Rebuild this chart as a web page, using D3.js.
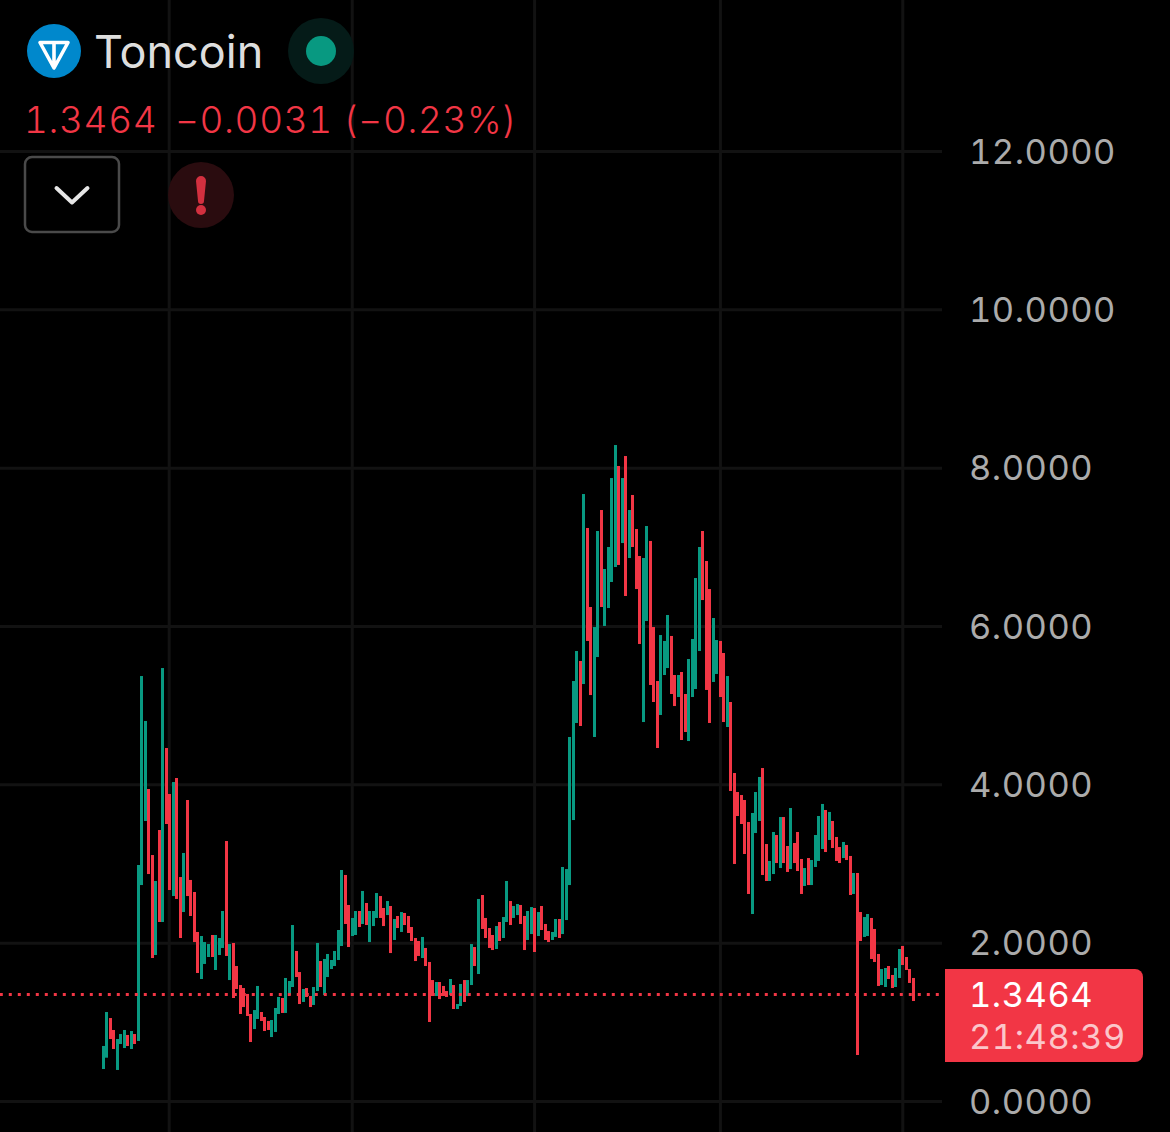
<!DOCTYPE html>
<html>
<head>
<meta charset="utf-8">
<script src="https://cdn.jsdelivr.net/npm/d3@7"></script>
<style>
  html, body { margin: 0; background: #000; }
  svg { display: block; font-family: Inter, "Noto Sans", sans-serif; font-variant-numeric: tabular-nums; }
</style>
</head>
<body>
<svg id="chart" width="1170" height="1132"></svg>
<script>
// weekly candles
const opens = [
  0.404,0.547,1.048,0.897,0.392,0.720,0.669,0.834,0.657,0.846,0.758,2.728,3.537,3.941,3.107,1.844,3.423,2.261,4.459,3.878,
  2.589,4.080,2.829,2.387,3.802,2.792,2.640,2.135,1.541,1.731,1.819,2.097,1.655,1.844,1.933,3.284,1.528,1.996,1.705,1.465,
  1.427,1.352,1.099,0.909,1.036,1.124,1.061,1.011,0.808,0.872,1.099,1.301,1.112,1.339,1.440,1.895,1.629,1.251,1.427,1.326,
  1.213,1.389,1.768,1.339,1.566,1.667,1.705,1.781,1.958,2.855,2.476,2.084,2.097,2.400,2.236,2.501,2.008,2.210,2.312,2.589,
  2.438,2.349,2.463,2.034,2.337,2.135,2.375,2.337,2.198,2.059,2.021,1.806,1.933,1.756,1.528,1.326,1.503,1.453,1.389,1.339,
  1.465,1.162,1.200,1.528,1.326,1.465,1.945,1.604,2.602,2.312,2.185,2.097,1.920,2.261,2.059,2.261,2.526,2.312,2.349,2.476,
  2.337,2.034,2.109,2.438,2.084,2.463,2.236,2.147,2.034,2.072,2.299,2.109,2.286,2.728,3.549,4.775,5.558,5.267,7.238,6.240,
  4.598,5.608,7.465,6.000,6.227,6.556,6.745,8.021,7.048,8.147,6.859,7.655,7.225,6.884,4.787,6.063,7.074,5.987,5.305,4.876,
  5.381,5.469,5.874,5.381,5.103,5.419,5.141,4.547,5.103,5.204,5.684,7.200,6.821,6.467,5.293,5.394,5.811,5.659,4.724,5.040,
  4.143,3.903,3.865,3.802,3.524,2.362,3.385,3.537,4.206,3.246,2.779,2.867,3.360,2.943,3.587,3.221,2.930,3.259,3.398,3.057,
  2.716,3.069,2.728,2.956,3.032,3.183,3.676,3.297,3.537,3.335,3.208,3.069,3.234,3.095,2.615,2.880,2.387,2.072,2.084,2.312,
  2.173,1.857,1.465,1.440,1.705,1.592,1.440,1.554,1.958,1.819,1.667,1.554
];
const closes = [
  0.695,1.124,0.783,0.657,0.783,0.846,0.897,0.695,0.884,0.720,2.981,5.368,4.800,2.867,1.806,2.779,2.261,5.469,3.499,2.665,
  4.029,2.552,2.059,3.133,2.589,2.337,2.008,1.617,2.084,2.008,1.983,1.819,2.097,2.059,2.400,1.832,1.983,1.301,1.415,1.099,
  1.187,1.074,0.745,1.149,1.453,1.011,0.884,0.897,1.023,1.175,1.314,1.112,1.554,1.516,2.223,1.566,1.225,1.415,1.314,1.187,
  1.440,1.996,1.440,1.794,1.857,1.781,1.895,2.160,2.918,2.236,1.945,2.312,2.400,2.198,2.653,2.223,2.400,2.400,2.627,2.312,
  2.210,2.526,1.869,2.299,2.185,2.387,2.223,2.122,2.021,1.768,1.832,2.072,1.705,0.998,1.326,1.503,1.288,1.326,1.314,1.541,
  1.162,1.225,1.478,1.251,1.528,1.983,1.705,2.552,2.173,2.059,1.933,1.907,2.210,2.021,2.324,2.779,2.223,2.463,2.488,2.236,
  1.907,2.400,2.450,1.882,2.387,2.160,2.034,2.008,2.135,2.299,2.059,2.956,2.930,4.598,5.305,5.684,4.737,7.667,5.811,5.128,
  5.987,7.200,6.240,6.720,6.998,7.869,8.286,6.771,7.869,6.379,7.465,6.998,6.467,5.773,6.859,7.263,5.255,5.040,4.459,5.886,
  5.811,6.139,5.141,4.989,5.381,4.560,4.661,5.583,5.836,6.606,6.998,6.328,5.192,4.775,6.101,5.823,5.103,4.787,5.368,3.916,
  2.994,3.600,3.499,3.120,2.615,3.638,3.903,4.093,2.855,2.779,3.032,3.398,3.006,3.587,3.006,2.893,3.701,3.006,2.905,2.615,
  2.943,2.728,3.044,3.360,3.600,3.752,3.145,3.651,3.196,3.032,3.006,3.272,3.044,2.602,2.880,0.581,2.021,2.324,2.362,1.794,
  1.756,1.453,1.667,1.680,1.541,1.427,1.680,1.920,1.718,1.655,1.491,1.263
];
const priceTicks = [0, 2, 4, 6, 8, 10, 12];
const gridBars = [18.8, 71, 123, 176, 228]; // year lines, in bar positions
const lastPrice = 1.3464;
const title = 'Toncoin';
const changeText = ['1.3464', '\u22120.0031 (\u22120.23%)'];
const countdown = '21:48:39';

const UP = '#089981', DOWN = '#F23645', GRID = '#121212';

const svg = d3.select('#chart');
svg.append('rect').attr('width', 1170).attr('height', 1132).attr('fill', '#000');

const x = d3.scaleLinear().domain([0, opens.length - 1]).range([103.3, 913.3]);
const y = d3.scaleLinear().domain([0, 12]).range([1101, 151]);

// grid
svg.append('g').selectAll('line')
  .data(gridBars)
  .join('line')
  .attr('x1', d => x(d)).attr('x2', d => x(d))
  .attr('y1', 0).attr('y2', 1132)
  .attr('stroke', GRID).attr('stroke-width', 3);

const axis = d3.axisRight(y)
  .tickValues(priceTicks)
  .tickFormat(d3.format('.4f'))
  .tickSizeInner(-942)
  .tickSizeOuter(0)
  .tickPadding(27);

const axisG = svg.append('g').attr('transform', 'translate(942,0)').call(axis);
axisG.select('.domain').remove();
axisG.selectAll('.tick line').attr('stroke', GRID).attr('stroke-width', 3);
axisG.selectAll('.tick text')
  .attr('fill', '#ababab')
  .attr('font-size', 34.5)
  .attr('font-family', 'Inter, "Noto Sans", sans-serif')
  .attr('letter-spacing', 0.5)
  .attr('dy', '0.35em');

// candles
svg.append('g').selectAll('rect')
  .data(opens.map((o, i) => ({ i, o, c: closes[i] })))
  .join('rect')
  .attr('x', d => Math.round(x(d.i) - 1.5))
  .attr('width', 3)
  .attr('y', d => y(Math.max(d.o, d.c)))
  .attr('height', d => Math.abs(y(d.o) - y(d.c)))
  .attr('fill', d => d.c >= d.o ? UP : DOWN);

// last price line and badge
svg.append('line')
  .attr('x1', 0).attr('x2', 942)
  .attr('y1', y(lastPrice)).attr('y2', y(lastPrice))
  .attr('stroke', DOWN).attr('stroke-width', 3)
  .attr('stroke-dasharray', '3 6')
  .attr('stroke-dashoffset', 0.2);

svg.append('path')
  .attr('d', 'M945,969H1135a8,8 0 0 1 8,8V1054a8,8 0 0 1 -8,8H945Z')
  .attr('fill', DOWN);
svg.append('text').text(d3.format('.4f')(lastPrice))
  .attr('x', 969).attr('y', 1007)
  .attr('fill', '#fff').attr('font-size', 34.5).attr('letter-spacing', 0.5);
svg.append('text').text(countdown)
  .attr('x', 969).attr('y', 1049)
  .attr('fill', '#fff').attr('fill-opacity', 0.72).attr('font-size', 34.5).attr('letter-spacing', 0.5);

// header
const head = svg.append('g');
head.append('circle').attr('cx', 54).attr('cy', 51).attr('r', 27).attr('fill', '#0088CC');
head.append('path')
  .attr('d', 'M40,42.5H68L54,68Z M54,42.5V68')
  .attr('fill', 'none').attr('stroke', '#fff').attr('stroke-width', 3.6).attr('stroke-linejoin', 'round');
head.append('text').text(title)
  .attr('x', 94).attr('y', 68)
  .attr('fill', '#dedede').attr('font-size', 45).attr('font-weight', 400);

head.append('circle').attr('cx', 321).attr('cy', 51).attr('r', 33).attr('fill', '#051b18');
head.append('circle').attr('cx', 321).attr('cy', 51).attr('r', 15).attr('fill', UP);

head.append('text').text(changeText[0])
  .attr('x', 24).attr('y', 133)
  .attr('fill', DOWN).attr('font-size', 37).attr('font-weight', 300).attr('letter-spacing', 0.6);
head.append('text').text(changeText[1])
  .attr('x', 175).attr('y', 133)
  .attr('fill', DOWN).attr('font-size', 37).attr('font-weight', 300).attr('letter-spacing', 0.6);

head.append('rect')
  .attr('x', 25).attr('y', 157).attr('width', 94).attr('height', 75).attr('rx', 7)
  .attr('fill', '#000').attr('stroke', '#4a4a4a').attr('stroke-width', 2.5);
head.append('path')
  .attr('d', 'M56.5,188L72,202.5L87.5,188')
  .attr('fill', 'none').attr('stroke', '#e6e6e6').attr('stroke-width', 4).attr('stroke-linecap', 'round').attr('stroke-linejoin', 'round');

head.append('circle').attr('cx', 201).attr('cy', 195).attr('r', 33).attr('fill', '#2a0c0f');
head.append('path')
  .attr('d', 'M196,181a5,5 0 0 1 10,0L204,201a3,3 0 0 1 -6,0Z')
  .attr('fill', '#d2303f');
head.append('circle').attr('cx', 201).attr('cy', 210).attr('r', 5).attr('fill', '#d2303f');
</script>
</body>
</html>
